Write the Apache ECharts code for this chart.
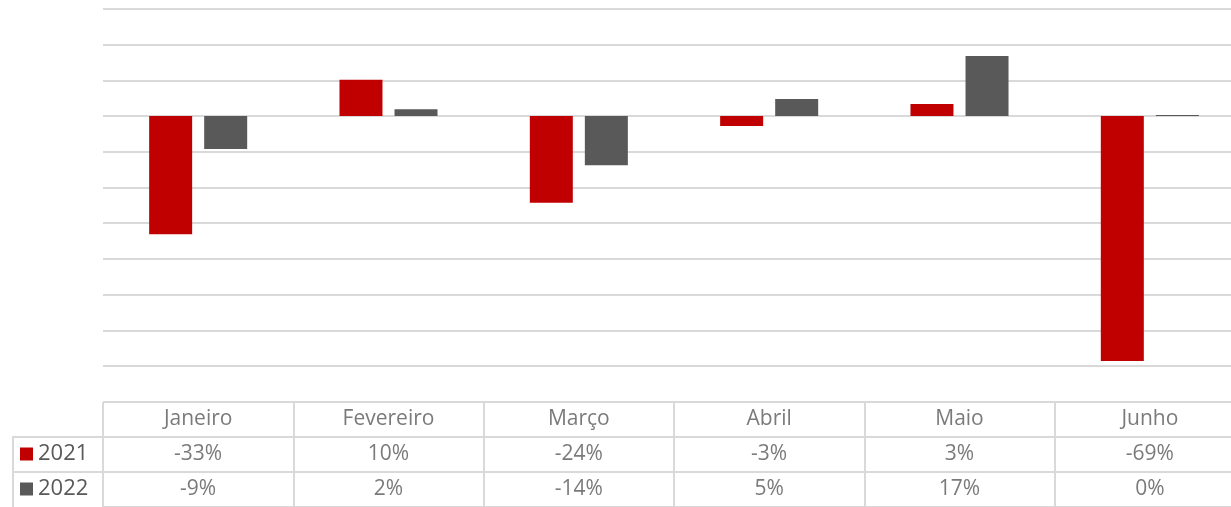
<!DOCTYPE html>
<html>
<head>
<meta charset="utf-8">
<script src="https://cdn.jsdelivr.net/npm/echarts@6/dist/echarts.min.js"></script>
<style>
  html, body { margin: 0; padding: 0; background: #fff; }
  #chart { width: 1231px; height: 507px; }
</style>
</head>
<body>
<div id="chart"></div>
<script>
// 数据
const months = ['Janeiro', 'Fevereiro', 'Março', 'Abril', 'Maio', 'Junho'];
const seriesNames = ['2021', '2022'];
const values2021 = [-33.1, 10.2, -24.3, -2.8, 3.4, -68.6];
const values2022 = [-9.2, 1.9, -13.8, 4.8, 16.8, 0.3];
const colors = ['#c00000', '#595959'];

const textColor = '#595959';
const lineColor = '#d9d9d9';
const fontFamily = '"Open Sans", Lato, sans-serif';

const chartDom = document.getElementById('chart');
const myChart = echarts.init(chartDom);

const pct = v => Math.round(v) + '%';

// 表格单元格文字
function tableRow(rowIdx, texts) {
  return {
    type: 'scatter',
    xAxisIndex: 1,
    yAxisIndex: 1,
    symbolSize: 0,
    silent: true,
    data: texts.map((t, i) => ({ value: [i, rowIdx], name: t })),
    label: {
      show: true,
      position: 'inside',
      formatter: p => p.name,
      color: textColor,
      fontSize: 21,
      fontFamily: fontFamily
    }
  };
}

const option = {
  animation: false,
  legend: {
    data: seriesNames,
    orient: 'vertical',
    left: 20,
    top: 443,
    padding: 0,
    itemWidth: 13,
    itemHeight: 13,
    itemGap: 13,
    icon: 'rect',
    selectedMode: false,
    textStyle: { color: textColor, fontSize: 22, lineHeight: 22, fontFamily: fontFamily }
  },
  grid: [
    { left: 103, top: 9, width: 1142, height: 357, outerBoundsMode: 'none' },
    { left: 103, top: 402, width: 1142, height: 105, outerBoundsMode: 'none' }
  ],
  xAxis: [
    {
      type: 'category',
      gridIndex: 0,
      data: months,
      axisLine: { show: false },
      axisTick: { show: false },
      axisLabel: { show: false }
    },
    {
      type: 'category',
      gridIndex: 1,
      data: months,
      axisLine: { show: false },
      axisTick: { show: false },
      axisLabel: { show: false },
      splitLine: { show: true, interval: 0, lineStyle: { color: lineColor, width: 2 } }
    }
  ],
  yAxis: [
    {
      type: 'value',
      gridIndex: 0,
      min: -70,
      max: 30,
      interval: 10,
      axisLine: { show: false },
      axisTick: { show: false },
      axisLabel: { show: false },
      splitLine: { lineStyle: { color: lineColor, width: 2 } }
    },
    {
      type: 'category',
      gridIndex: 1,
      data: ['', '2021', '2022'],
      inverse: true,
      axisLine: { show: false },
      axisTick: { show: false },
      axisLabel: { show: false },
      splitLine: { show: true, interval: 0, lineStyle: { color: lineColor, width: 2 } }
    }
  ],
  graphic: [
    { type: 'line', shape: { x1: 13, y1: 437, x2: 103, y2: 437 }, style: { stroke: lineColor, lineWidth: 2 } },
    { type: 'line', shape: { x1: 13, y1: 472, x2: 103, y2: 472 }, style: { stroke: lineColor, lineWidth: 2 } },
    { type: 'line', shape: { x1: 13, y1: 436, x2: 13, y2: 507 }, style: { stroke: lineColor, lineWidth: 2 } }
  ],
  series: [
    {
      name: '2021',
      type: 'bar',
      data: values2021,
      barWidth: 43,
      barGap: '28%',
      itemStyle: { color: colors[0] }
    },
    {
      name: '2022',
      type: 'bar',
      data: values2022,
      barWidth: 43,
      barGap: '28%',
      itemStyle: { color: colors[1] }
    },
    tableRow(0, months),
    tableRow(1, values2021.map(pct)),
    tableRow(2, values2022.map(pct))
  ]
};

myChart.setOption(option);
</script>
</body>
</html>
